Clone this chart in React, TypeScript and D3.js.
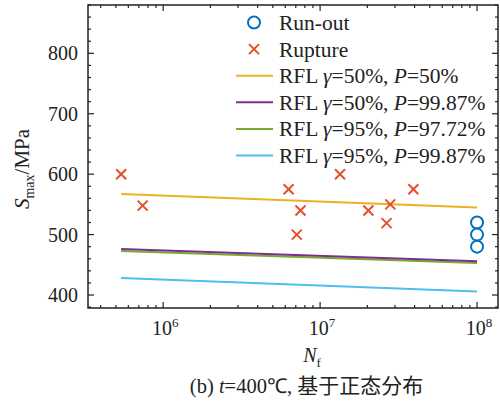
import * as d3 from 'd3';

// rupture points (cycles, MPa)
const ruptureN = [5.4e5, 7.4e5, 6.3e6, 7.1e6, 7.5e6, 1.34e7, 2.03e7, 2.65e7, 2.8e7, 3.93e7];
const ruptureS = [600, 548, 575, 500, 540, 600, 540, 519, 550, 575];

// run-out points
const runoutN = [1e8, 1e8, 1e8];
const runoutS = [520, 500, 480];

// RFL curves, start/end
const rflN = [5.4e5, 1e8];
const rflP50 = [567, 545];
const rflP9987 = [476, 456];
const rflG95P9772 = [473, 453];
const rflG95P9987 = [428, 406];

const xTicks = [1e6, 1e7, 1e8];
const yTicks = [400, 500, 600, 700, 800];

const legendLabels: [string, string][] = [
  ['50%', '50%'],
  ['50%', '99.87%'],
  ['95%', '97.72%'],
  ['95%', '99.87%'],
];
const legendColors = ['#edb120', '#7e2f8e', '#77ac30', '#4dbeee'];

const SERIF = 'Liberation Serif';
const INK = '#222';

const W = 500, H = 403;
const margin = { top: 5, right: 2, bottom: 95, left: 88 };
const width = W - margin.left - margin.right;
const height = H - margin.top - margin.bottom;

function Cross({ cx, cy, r = 5 }: { cx: number; cy: number; r?: number }) {
  return (
    <path
      d={`M${cx - r},${cy - r}L${cx + r},${cy + r}M${cx - r},${cy + r}L${cx + r},${cy - r}`}
      stroke="#e4502a"
      strokeWidth={2}
      fill="none"
    />
  );
}

export default function App() {
  const x = d3.scaleLog().domain([3.32e5, 1.36e8]).range([0, width]);
  const y = d3.scaleLinear().domain([378.5, 880]).range([height, 0]);

  const line = d3.line<[number, number]>().x(d => x(d[0])).y(d => y(d[1]));
  // drawn order: green under purple
  const curves = [
    { s: rflP50, color: '#edb120' },
    { s: rflG95P9772, color: '#77ac30' },
    { s: rflP9987, color: '#7e2f8e' },
    { s: rflG95P9987, color: '#4dbeee' },
  ];

  const [x0, x1] = x.domain();
  const minorX: number[] = [];
  for (let e = 5; e <= 8; e++) {
    for (let k = 2; k <= 9; k++) {
      const v = k * Math.pow(10, e);
      if (v >= x0 && v <= x1) minorX.push(v);
    }
  }
  const minorY = d3.range(380, 881, 20).filter(v => v % 100 !== 0);

  const rowY = (i: number) => 22.5 + i * 26.6;
  const mx = 254;

  return (
    <svg
      width={W}
      height={H}
      style={{ position: 'absolute', left: 0, top: 0, background: '#fff' }}
    >
      <g transform={`translate(${margin.left},${margin.top})`}>
        {curves.map((c, i) => (
          <path
            key={i}
            d={line(rflN.map((n, j) => [n, c.s[j]] as [number, number])) || ''}
            fill="none"
            stroke={c.color}
            strokeWidth={2}
          />
        ))}
        {ruptureN.map((n, i) => (
          <Cross key={i} cx={x(n)} cy={y(ruptureS[i])} />
        ))}
        {runoutN.map((n, i) => (
          <circle key={i} cx={x(n)} cy={y(runoutS[i])} r={6} fill="none" stroke="#0072bd" strokeWidth={2} />
        ))}
        <rect width={width} height={height} fill="none" stroke={INK} strokeWidth={1.5} />
        <g stroke={INK} strokeWidth={1.2}>
          {xTicks.map(v => (
            <g key={v}>
              <line x1={x(v)} x2={x(v)} y1={height} y2={height - 6} />
              <line x1={x(v)} x2={x(v)} y1={0} y2={6} />
            </g>
          ))}
          {minorX.map(v => (
            <g key={v}>
              <line x1={x(v)} x2={x(v)} y1={height} y2={height - 3} />
              <line x1={x(v)} x2={x(v)} y1={0} y2={3} />
            </g>
          ))}
          {yTicks.map(v => (
            <g key={v}>
              <line x1={0} x2={6} y1={y(v)} y2={y(v)} />
              <line x1={width} x2={width - 6} y1={y(v)} y2={y(v)} />
            </g>
          ))}
          {minorY.map(v => (
            <g key={v}>
              <line x1={0} x2={3} y1={y(v)} y2={y(v)} />
              <line x1={width} x2={width - 3} y1={y(v)} y2={y(v)} />
            </g>
          ))}
        </g>
        {yTicks.map(v => (
          <text
            key={v}
            x={-10}
            y={y(v)}
            dy="0.35em"
            textAnchor="end"
            fill={INK}
            style={{ fontFamily: SERIF, fontSize: 20 }}
          >
            {v}
          </text>
        ))}
        {xTicks.map(v => (
          <text
            key={v}
            x={x(v) + 2}
            y={height + 27}
            textAnchor="middle"
            fill={INK}
            style={{ fontFamily: SERIF, fontSize: 20 }}
          >
            <tspan>10</tspan>
            <tspan dy={-8} style={{ fontSize: 13 }}>{Math.round(Math.log10(v))}</tspan>
          </text>
        ))}
      </g>

      <text
        transform="translate(29,169) rotate(-90)"
        textAnchor="middle"
        fill={INK}
        style={{ fontFamily: SERIF, fontSize: 21 }}
      >
        <tspan style={{ fontStyle: 'italic' }}>S</tspan>
        <tspan dy={5} style={{ fontSize: 14 }}>max</tspan>
        <tspan dy={-5}>/MPa</tspan>
      </text>

      <text
        x={margin.left + x(1e7) - 8}
        y={362}
        textAnchor="middle"
        fill={INK}
        style={{ fontFamily: SERIF, fontSize: 20 }}
      >
        <tspan style={{ fontStyle: 'italic' }}>N</tspan>
        <tspan dy={5} style={{ fontSize: 13 }}>f</tspan>
      </text>

      <text x={306.5} y={393} textAnchor="middle" fill={INK} style={{ fontFamily: SERIF, fontSize: 20.5 }}>
        <tspan>(b) </tspan>
        <tspan style={{ fontStyle: 'italic' }}>t</tspan>
        <tspan>=400℃, </tspan>
        <tspan style={{ fontFamily: 'Noto Sans CJK SC', fontSize: 21 }}>基于正态分布</tspan>
      </text>

      {/* legend */}
      <g>
        <circle cx={mx} cy={rowY(0)} r={6} fill="none" stroke="#0072bd" strokeWidth={2} />
        <Cross cx={mx} cy={rowY(1)} />
        {legendColors.map((c, i) => (
          <line key={c} x1={236} x2={273} y1={rowY(i + 2)} y2={rowY(i + 2)} stroke={c} strokeWidth={2} />
        ))}
        <text x={279} y={rowY(0)} dy="0.35em" fill={INK} style={{ fontFamily: SERIF, fontSize: 21.5 }}>Run-out</text>
        <text x={279} y={rowY(1)} dy="0.35em" fill={INK} style={{ fontFamily: SERIF, fontSize: 21.5 }}>Rupture</text>
        {legendLabels.map((lb, i) => (
          <text key={i} x={279} y={rowY(i + 2)} dy="0.35em" fill={INK} style={{ fontFamily: SERIF, fontSize: 21.5 }}>
            <tspan>RFL </tspan>
            <tspan style={{ fontStyle: 'italic' }}>γ</tspan>
            <tspan>={lb[0]}, </tspan>
            <tspan style={{ fontStyle: 'italic' }}>P</tspan>
            <tspan>={lb[1]}</tspan>
          </text>
        ))}
      </g>
    </svg>
  );
}
